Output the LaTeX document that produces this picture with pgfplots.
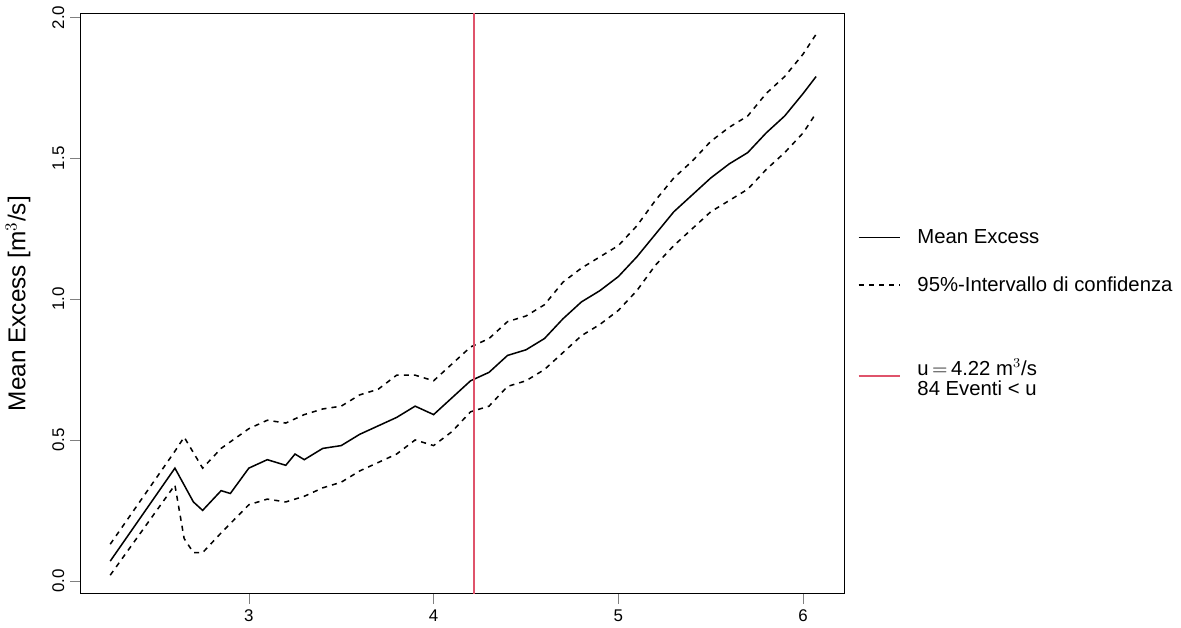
\documentclass[border=0pt]{standalone}
\usepackage{pgfplots}
\pgfplotsset{compat=1.18}
\usepackage{fontspec}
\setmainfont{Liberation Sans}
\definecolor{rred}{HTML}{DF536B}
\begin{document}
\begin{tikzpicture}
\begin{axis}[scale only axis, width=451.8pt, height=343pt,
 xmin=2.088, xmax=6.225, ymin=-0.046, ymax=2.014,
 xtick={3,4,5,6}, ytick={0,0.5,1,1.5,2},
 yticklabels={0.0,0.5,1.0,1.5,2.0},
 tick align=outside, xtick pos=bottom, ytick pos=left,
 major tick length=6pt,
 yticklabel style={rotate=90},
 /pgf/number format/assume math mode=true,
 ticklabel style={font=\normalsize},
 ylabel={Mean Excess [m$^3$/s]}, ylabel style={font=\Large, yshift=6pt},
 legend style={at={(1.01,0.64)}, anchor=north west, draw=none, font=\large, row sep=14pt, cells={anchor=west},
   /tikz/every odd column/.append style={column sep=8pt}},
 legend cell align=left]
\addplot[black, line width=0.9pt] coordinates {(2.25,0.07)(2.6,0.40)(2.7,0.28)(2.75,0.25)(2.85,0.32)(2.9,0.31)(3.0,0.40)(3.1,0.43)(3.2,0.41)(3.25,0.45)(3.3,0.43)(3.4,0.47)(3.5,0.48)(3.6,0.52)(3.7,0.55)(3.8,0.58)(3.9,0.62)(4.0,0.59)(4.1,0.65)(4.2,0.71)(4.3,0.74)(4.4,0.80)(4.5,0.82)(4.6,0.86)(4.7,0.93)(4.8,0.99)(4.9,1.03)(5.0,1.08)(5.1,1.15)(5.2,1.23)(5.3,1.31)(5.4,1.37)(5.5,1.43)(5.6,1.48)(5.7,1.52)(5.8,1.59)(5.9,1.65)(6.0,1.73)(6.07,1.79)};
\addplot[black, line width=0.9pt, dashed] coordinates {(2.25,0.13)(2.6,0.46)(2.65,0.51)(2.75,0.40)(2.85,0.47)(3.0,0.54)(3.1,0.57)(3.2,0.56)(3.3,0.59)(3.4,0.61)(3.5,0.62)(3.6,0.66)(3.7,0.68)(3.8,0.73)(3.9,0.73)(4.0,0.71)(4.1,0.77)(4.2,0.83)(4.3,0.86)(4.4,0.92)(4.5,0.94)(4.6,0.98)(4.7,1.06)(4.8,1.11)(4.9,1.15)(5.0,1.19)(5.1,1.26)(5.2,1.35)(5.3,1.43)(5.4,1.49)(5.5,1.56)(5.6,1.61)(5.7,1.65)(5.8,1.73)(5.9,1.79)(6.0,1.87)(6.07,1.94)};
\addplot[black, line width=0.9pt, dashed] coordinates {(2.25,0.02)(2.6,0.34)(2.65,0.15)(2.7,0.10)(2.75,0.10)(2.85,0.17)(3.0,0.27)(3.1,0.29)(3.2,0.28)(3.3,0.30)(3.4,0.33)(3.5,0.35)(3.6,0.39)(3.7,0.42)(3.8,0.45)(3.9,0.50)(4.0,0.48)(4.1,0.53)(4.2,0.60)(4.3,0.62)(4.4,0.69)(4.5,0.71)(4.6,0.75)(4.7,0.81)(4.8,0.87)(4.9,0.91)(5.0,0.96)(5.1,1.03)(5.2,1.12)(5.3,1.19)(5.4,1.25)(5.5,1.31)(5.6,1.35)(5.7,1.39)(5.8,1.46)(5.9,1.52)(6.0,1.59)(6.07,1.66)};
\addplot[rred, line width=1.1pt] coordinates {(4.22,-1)(4.22,3)};
\legend{}
\end{axis}
\begin{axis}[scale only axis, width=451.8pt, height=343pt, hide axis,
 xmin=0, xmax=1, ymin=0, ymax=1,
 legend style={at={(1.01,0.64)}, anchor=north west, draw=none, font=\large, row sep=14pt, cells={anchor=west},
   /tikz/every odd column/.append style={column sep=8pt}},
 legend cell align=left]
\addlegendimage{legend image code/.code={\draw[black, line width=0.9pt] (0,0)--(0.85cm,0);}}
\addlegendentry{Mean Excess}
\addlegendimage{legend image code/.code={\draw[black, line width=0.9pt, dashed] (0,0)--(0.85cm,0);}}
\addlegendentry{95\%-Intervallo di confidenza}
\addlegendimage{legend image code/.code={\draw[rred, line width=1.1pt] (0,-9pt)--(0.85cm,-9pt);}}
\addlegendentry{\rule{0pt}{42pt}\shortstack[l]{u$\,=\,$4.22 m$^3$/s\\84 Eventi < u}}
\end{axis}
\end{tikzpicture}
\end{document}
